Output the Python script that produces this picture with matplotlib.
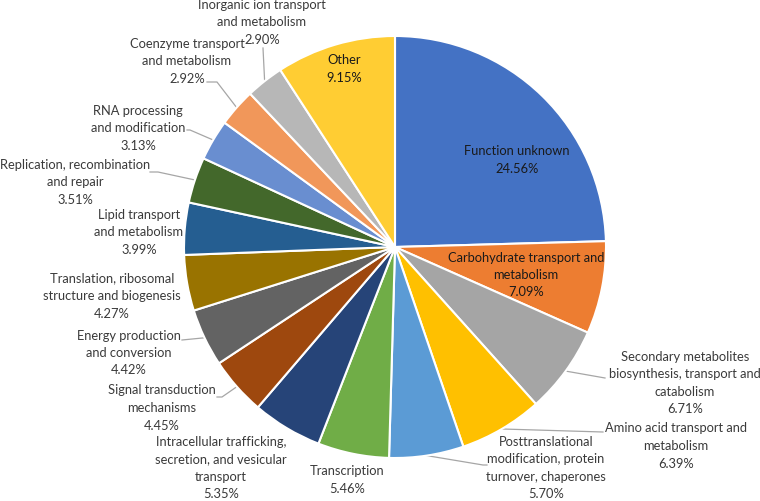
import matplotlib
matplotlib.use("Agg")
import matplotlib.pyplot as plt
import numpy as np

categories = [
    "Function unknown",
    "Carbohydrate transport and\nmetabolism",
    "Secondary metabolites\nbiosynthesis, transport and\ncatabolism",
    "Amino acid transport and\nmetabolism",
    "Posttranslational\nmodification, protein\nturnover, chaperones",
    "Transcription",
    "Intracellular trafficking,\nsecretion, and vesicular\ntransport",
    "Signal transduction\nmechanisms",
    "Energy production\nand conversion",
    "Translation, ribosomal\nstructure and biogenesis",
    "Lipid transport\nand metabolism",
    "Replication, recombination\nand repair",
    "RNA processing\nand modification",
    "Coenzyme transport\nand metabolism",
    "Inorganic ion transport\nand metabolism",
    "Other",
]
values = [24.56, 7.09, 6.71, 6.39, 5.70, 5.46, 5.35, 4.45, 4.42, 4.27,
          3.99, 3.51, 3.13, 2.92, 2.90, 9.15]
colors = ["#4472C4", "#ED7D31", "#A5A5A5", "#FFC000", "#5B9BD5", "#70AD47",
          "#264478", "#9E480E", "#636363", "#997300", "#255E91", "#43682B",
          "#698ED0", "#F1975A", "#B7B7B7", "#FFCD33"]

W, H = 760, 501
fig = plt.figure(figsize=(W / 100, H / 100), dpi=100)
ax = fig.add_axes([0, 0, 1, 1])

cx, cy, R = 395, H - 247, 211
wedges, _ = ax.pie(values, colors=colors, startangle=90, counterclock=False,
                   center=(cx, cy), radius=R, frame=True,
                   wedgeprops=dict(edgecolor="white", linewidth=1.5))
ax.set_xlim(0, W)
ax.set_ylim(0, H)
ax.set_aspect("equal")
ax.axis("off")

FONT = "Lato"
FS = 9.3

# label layout: (center x, center y in pixels from top, inside?, leader path points (pixels))
layout = [
    ((517, 160), True, None),
    ((526, 275), True, None),
    ((685, 383), False, [(605, 378)]),
    ((676, 446), False, [(603, 432)]),
    ((546, 468), False, [(483, 465), (487, 465)]),
    ((347, 480), False, None),
    ((221, 468), False, None),
    ((162, 408), False, [(222, 397), (217, 397)]),
    ((129, 353), False, [(182, 340)]),
    ((112, 296), False, None),
    ((139, 232), False, None),
    ((75, 182), False, [(158, 172), (150, 172)]),
    ((138, 128), False, [(190, 130), (187, 130)]),
    ((187, 61), False, [(217, 82), (207, 82)]),
    ((262, 22), False, [(263, 48)]),
    ((344, 69), True, None),
]

for w, cat, val, (pos, inside, path) in zip(wedges, categories, values, layout):
    txt = f"{cat}\n{val:.2f}%"
    color = "#1a1a1a" if inside else "#3a3a3a"
    ax.text(pos[0], H - pos[1], txt, ha="center", va="center", fontsize=FS,
            family=FONT, color=color, linespacing=1.55)
    if path:
        mid = np.deg2rad((w.theta1 + w.theta2) / 2)
        ax_pt = (cx + R * np.cos(mid), cy + R * np.sin(mid))
        xs = [ax_pt[0]] + [p[0] for p in path]
        ys = [ax_pt[1]] + [H - p[1] for p in path]
        ax.plot(xs, ys, color="#A6A6A6", lw=0.9, zorder=0.5)

fig.savefig("out.png", dpi=100)
